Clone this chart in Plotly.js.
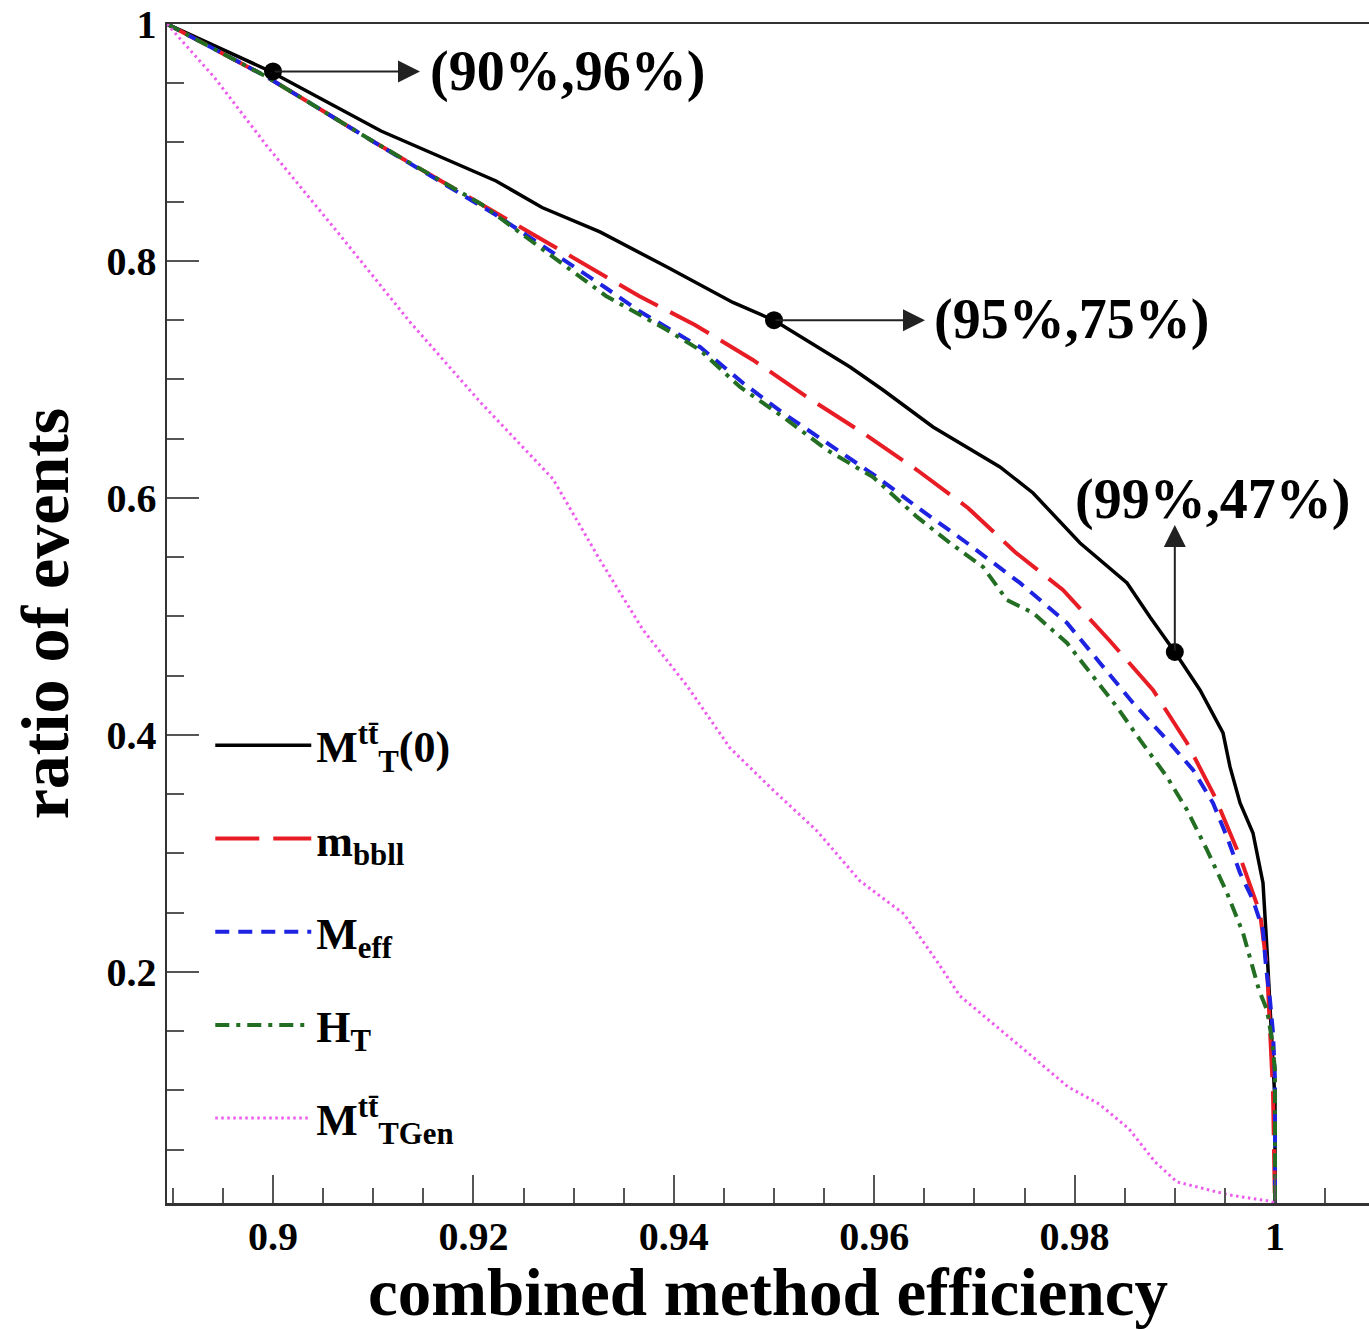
<!DOCTYPE html>
<html>
<head>
<meta charset="utf-8">
<script src="https://cdn.plot.ly/plotly-3.0.1.min.js"></script>
<style>html,body{margin:0;padding:0;background:#fff;}#chart{width:1369px;height:1329px;}</style>
</head>
<body>
<div id="chart"></div>
<script>
// ---- data ----
const seriesNames = ["M<sup>tt\u0304</sup><sub>T</sub>(0)", "m<sub>bbll</sub>", "M<sub>eff</sub>", "H<sub>T</sub>", "M<sup>tt\u0304</sup><sub>TGen</sub>"];

const mt0X = [0.88942,0.8995,0.91078,0.92226,0.92685,0.93263,0.93932,0.9459,0.9500,0.95759,0.96088,0.96587,0.97255,0.97585,0.98054,0.98523,0.98752,0.9900,0.99251,0.99481,0.99551,0.99651,0.9978,0.9988,0.9992,0.9995,0.9998,1.0,1.0];
const mt0Y = [1.0,0.961,0.9097,0.8675,0.8451,0.8245,0.7949,0.765,0.750,0.7105,0.6911,0.6599,0.6262,0.6042,0.562,0.5283,0.4996,0.470,0.438,0.4017,0.373,0.3426,0.3173,0.2751,0.2186,0.176,0.123,0.09,0.0];

const mbbllX = [0.88942,0.8994,0.91008,0.92076,0.92515,0.93084,0.93653,0.94212,0.9479,0.95329,0.95888,0.96427,0.96936,0.97405,0.97884,0.98353,0.98782,0.99122,0.99401,0.99651,0.9985,0.9992,0.9995,0.9998,1.0];
const mbbllY = [1.0,0.9553,0.9004,0.8481,0.8262,0.7992,0.7705,0.746,0.7165,0.6852,0.6549,0.6236,0.5916,0.5544,0.5224,0.4793,0.438,0.3932,0.3477,0.297,0.2498,0.2042,0.1485,0.0979,0.0];

const meffX = [0.88942,0.8994,0.91008,0.92226,0.93323,0.93653,0.94261,0.94691,0.9509,0.95589,0.96028,0.96427,0.96926,0.97455,0.97924,0.98253,0.98583,0.98922,0.99182,0.99381,0.99521,0.99651,0.9978,0.9988,0.9991,0.9995,0.9998,1.0,1.0];
const meffY = [1.0,0.9553,0.9004,0.8388,0.7772,0.7578,0.7274,0.697,0.6717,0.643,0.6177,0.5924,0.562,0.5283,0.4945,0.4608,0.427,0.3958,0.3705,0.3426,0.3139,0.2835,0.2608,0.2354,0.2042,0.1764,0.1485,0.109,0.0];

const htX = [0.88942,0.8994,0.91008,0.92076,0.93323,0.93932,0.94261,0.94661,0.9509,0.95529,0.95988,0.96427,0.96757,0.97086,0.97325,0.97585,0.97924,0.98184,0.98423,0.98653,0.98922,0.99122,0.99321,0.99521,0.99681,0.9984,0.9992,0.9997,1.0,1.0];
const htY = [1.0,0.9553,0.9004,0.8481,0.7705,0.7418,0.7249,0.6937,0.6684,0.6405,0.6177,0.584,0.562,0.5418,0.5139,0.503,0.4776,0.4489,0.4236,0.3958,0.3646,0.3367,0.303,0.2667,0.2329,0.1848,0.1679,0.1426,0.117,0.0];

const mtgenX = [0.88942,0.89411,0.8994,0.90659,0.91367,0.92076,0.92794,0.93263,0.93693,0.94132,0.94561,0.9499,0.95429,0.95858,0.96297,0.96637,0.96856,0.97156,0.97595,0.97934,0.98244,0.98543,0.98802,0.99022,0.99541,0.9993,1.0];
const mtgenY = [1.0,0.9553,0.897,0.8228,0.7485,0.6802,0.616,0.5477,0.4886,0.4414,0.389,0.3536,0.319,0.2768,0.2489,0.2076,0.1797,0.1586,0.1274,0.103,0.0886,0.0675,0.0397,0.0228,0.0118,0.0068,0.005];

const pointX = [0.90, 0.95, 0.99];
const pointY = [0.96, 0.75, 0.47];
const pointLabels = ["(90%,96%)", "(95%,75%)", "(99%,47%)"];

const xTickVals = [0.90, 0.92, 0.94, 0.96, 0.98, 1.00];
const xTickText = ["0.9", "0.92", "0.94", "0.96", "0.98", "1"];
const yTickVals = [0.2, 0.4, 0.6, 0.8, 1.0];
const yTickText = ["0.2", "0.4", "0.6", "0.8", "1"];

const xTitle = "combined method efficiency";
const yTitle = "ratio of events";

// ---- styling ----
const serif = '"Liberation Serif", "Times New Roman", serif';
const axisCol = '#333';

function line(x, y, name, color, dash, width, group) {
  return {x: x, y: y, type: 'scatter', mode: 'lines', name: name, legendgroup: group,
          line: {color: color, dash: dash, width: width, shape: 'linear'}, hoverinfo: 'skip'};
}

const traces = [
  line(mt0X, mt0Y, seriesNames[0], '#000000', 'solid', 3.5, 'g1'),
  line(mbbllX, mbbllY, seriesNames[1], 'rgb(232,28,36)', '44px,14px', 4, 'g2'),
  line(meffX, meffY, seriesNames[2], 'rgb(30,35,225)', '14px,9px', 4, 'g3'),
  line(htX, htY, seriesNames[3], 'rgb(35,110,35)', '14px,7px,4px,7px', 4, 'g4'),
  line(mtgenX, mtgenY, seriesNames[4], 'rgb(238,90,238)', '2.5px,3.5px', 3, 'g5'),
  {x: pointX, y: pointY, type: 'scatter', mode: 'markers', showlegend: false, hoverinfo: 'skip',
   marker: {color: '#000', size: 18, symbol: 'circle'}}
];

// arrow heads positions (layout), tails are the marked points
const arrowHeadX = [0.91467, 0.96507, 0.99];
const arrowHeadY = [0.96, 0.75, 0.5772];
const labelX = [0.91547, 0.96577, 0.97984];
const labelY = [0.96, 0.7502, 0.5983];

const annotations = [];
for (let i = 0; i < pointX.length; i++) {
  annotations.push({x: arrowHeadX[i], y: arrowHeadY[i], xref: 'x', yref: 'y',
    ax: pointX[i], ay: pointY[i], axref: 'x', ayref: 'y', text: '', showarrow: true,
    arrowhead: 2, arrowsize: 2.2, arrowwidth: 2, arrowcolor: '#222', standoff: 0, startstandoff: 0});
  annotations.push({x: labelX[i], y: labelY[i], xref: 'x', yref: 'y', text: pointLabels[i],
    showarrow: false, xanchor: 'left', yanchor: 'middle',
    font: {family: serif, size: 56, color: '#000', weight: 700}});
}

const layout = {
  width: 1369, height: 1329,
  margin: {l: 167, r: 0, t: 24, b: 126, pad: 0},
  paper_bgcolor: '#fff', plot_bgcolor: '#fff',
  font: {family: serif, color: '#000', weight: 700},
  showlegend: true,
  legend: {x: 0.036, y: 0.418, xanchor: 'left', yanchor: 'top', bgcolor: 'rgba(0,0,0,0)',
           font: {family: serif, size: 44, color: '#000', weight: 700},
           tracegroupgap: 33, traceorder: 'grouped', itemwidth: 96},
  xaxis: {range: [0.88942, 1.00938], showgrid: false, zeroline: false,
          showline: true, linecolor: axisCol, linewidth: 2.5, mirror: true,
          ticks: 'inside', ticklen: 28, tickwidth: 2, tickcolor: '#555',
          tickvals: xTickVals, ticktext: xTickText, ticklabelstandoff: -4,
          tickfont: {family: serif, size: 40, color: '#000', weight: 700},
          minor: {dtick: 0.005, tick0: 0, ticks: 'inside', ticklen: 15, tickwidth: 2, tickcolor: '#555', showgrid: false},
          title: {text: xTitle, standoff: 16, font: {family: serif, size: 67, color: '#000', weight: 700}}},
  yaxis: {range: [0.005, 1.0], showgrid: false, zeroline: false,
          showline: true, linecolor: axisCol, linewidth: 2.5,
          ticks: 'inside', ticklen: 32, tickwidth: 2, tickcolor: '#555',
          tickvals: yTickVals, ticktext: yTickText, ticklabelstandoff: 0,
          tickfont: {family: serif, size: 40, color: '#000', weight: 700},
          minor: {dtick: 0.05, tick0: 0, ticks: 'inside', ticklen: 17, tickwidth: 2, tickcolor: '#555', showgrid: false},
          title: {text: yTitle, standoff: 16, font: {family: serif, size: 68, color: '#000', weight: 700}}},
  annotations: annotations
};

Plotly.newPlot('chart', traces, layout, {displayModeBar: false, staticPlot: true});
</script>
</body>
</html>
